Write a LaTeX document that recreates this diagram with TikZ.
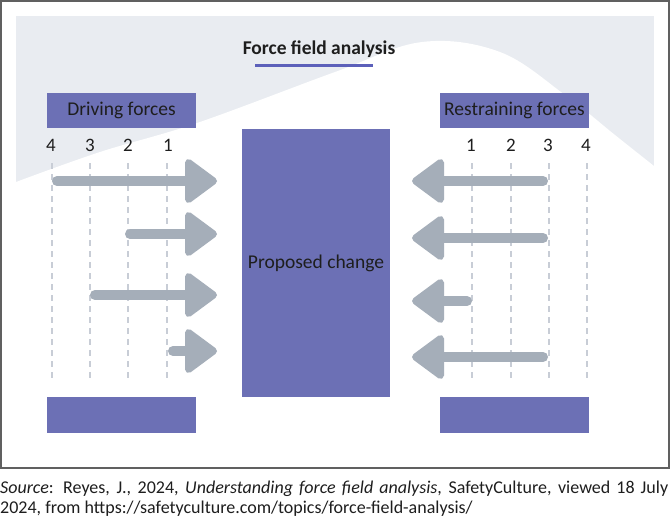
\documentclass[tikz,border=0pt]{standalone}
\usepackage{fontspec}
\setmainfont{Carlito}
\definecolor{boxpurple}{RGB}{108,112,181}
\definecolor{arrowgray}{RGB}{165,174,185}
\definecolor{bggray}{RGB}{233,236,241}
\definecolor{dashgray}{RGB}{200,205,214}
\definecolor{lineblue}{RGB}{92,96,186}
\definecolor{framegray}{RGB}{96,96,96}
\definecolor{txt}{RGB}{30,30,30}
\begin{document}
\begin{tikzpicture}[x=1pt,y=-1pt,
  pbox/.style={fill=boxpurple, draw=none, inner sep=0pt, text=txt, font=\fontsize{19.5}{22}\selectfont},
  numlbl/.style={anchor=base, inner sep=0pt, text=txt, font=\fontsize{19}{22}\selectfont},
  guide/.style={draw=dashgray, line width=1.1pt, dash pattern=on 6pt off 5pt},
  shaft/.style={draw=arrowgray, line width=10pt, line cap=round},
  head/.style={fill=arrowgray, draw=arrowgray, line width=7pt, line join=round}]
\useasboundingbox (0,0) rectangle (670,517);
% frame and background
\fill[white] (0,0) rectangle (670,517);
\fill[bggray] (16,16) rectangle (654,200);
\fill[white] plot[smooth, tension=0.6] coordinates {(16,182) (100,152) (197,123) (335,72) (422,42) (500,52) (565,95) (615,135) (654,166)} -- (654,201) -- (16,201) -- cycle;
\draw[framegray, line width=1.4pt] (1,1) rectangle (669,468);
% title
\node[anchor=base, inner sep=0pt, text=txt, font=\fontsize{19.5}{22}\selectfont\bfseries] (title) at (319,54) {Force field analysis};
\coordinate (ulA) at (255,65.5);
\coordinate (ulB) at (373,65.5);
\draw[lineblue, line width=2.5pt] (ulA) -- (ulB);
% boxes
\node[pbox, minimum width=149pt, minimum height=35pt] (drv) at (121.5,110.5) {Driving forces};
\node[pbox, minimum width=149pt, minimum height=35pt] (res) at (514.5,110.5) {Restraining forces};
\node[pbox, minimum width=148pt, minimum height=268pt] (chg) at (316,263) {Proposed change};
\node[pbox, minimum width=149pt, minimum height=36pt] (bl) at (121.5,415) {};
\node[pbox, minimum width=149pt, minimum height=36pt] (br) at (514.5,415) {};
% numbers
\node[numlbl] (l4) at (51,151) {4};
\node[numlbl] (l3) at (90,151) {3};
\node[numlbl] (l2) at (128,151) {2};
\node[numlbl] (l1) at (168,151) {1};
\node[numlbl] (r1) at (471,151) {1};
\node[numlbl] (r2) at (511,151) {2};
\node[numlbl] (r3) at (548,151) {3};
\node[numlbl] (r4) at (586,151) {4};
% dashed guides
\foreach \x in {52,90,128,167,472,511,549,587}{
  \draw[guide] (\x,163) -- (\x,378);
}
% driving arrows
\foreach \n/\s/\y in {1/57/181, 2/130/234, 3/95/295, 4/173/351}{
  \coordinate (ds\n) at (\s,\y);
  \coordinate (dt\n) at (213.5,\y);
  \draw[shaft] (ds\n) -- ([xshift=-20pt]dt\n);
  \fill[head] ([xshift=-25pt,yshift=18.5pt]dt\n) -- ([xshift=-25pt,yshift=-18.5pt]dt\n) -- (dt\n) -- cycle;
}
% restraining arrows
\foreach \n/\s/\y in {1/543/181, 2/543/238, 3/467/301, 4/543/357}{
  \coordinate (rs\n) at (\s,\y);
  \coordinate (rt\n) at (415.5,\y);
  \draw[shaft] (rs\n) -- ([xshift=20pt]rt\n);
  \fill[head] ([xshift=25pt,yshift=18.5pt]rt\n) -- ([xshift=25pt,yshift=-18.5pt]rt\n) -- (rt\n) -- cycle;
}
% caption
\node[anchor=base west, inner sep=0pt, text=txt, font=\fontsize{18}{20}\selectfont] (cap1) at (0,493) {\makebox[668pt][s]{\textit{Source}: Reyes, J., 2024, \textit{Understanding force field analysis}, SafetyCulture, viewed 18 July}};
\node[anchor=base west, inner sep=0pt, text=txt, font=\fontsize{18}{20}\selectfont] (cap2) at (0,513) {2024, from https://safetyculture.com/topics/force-field-analysis/};
\end{tikzpicture}
\end{document}
